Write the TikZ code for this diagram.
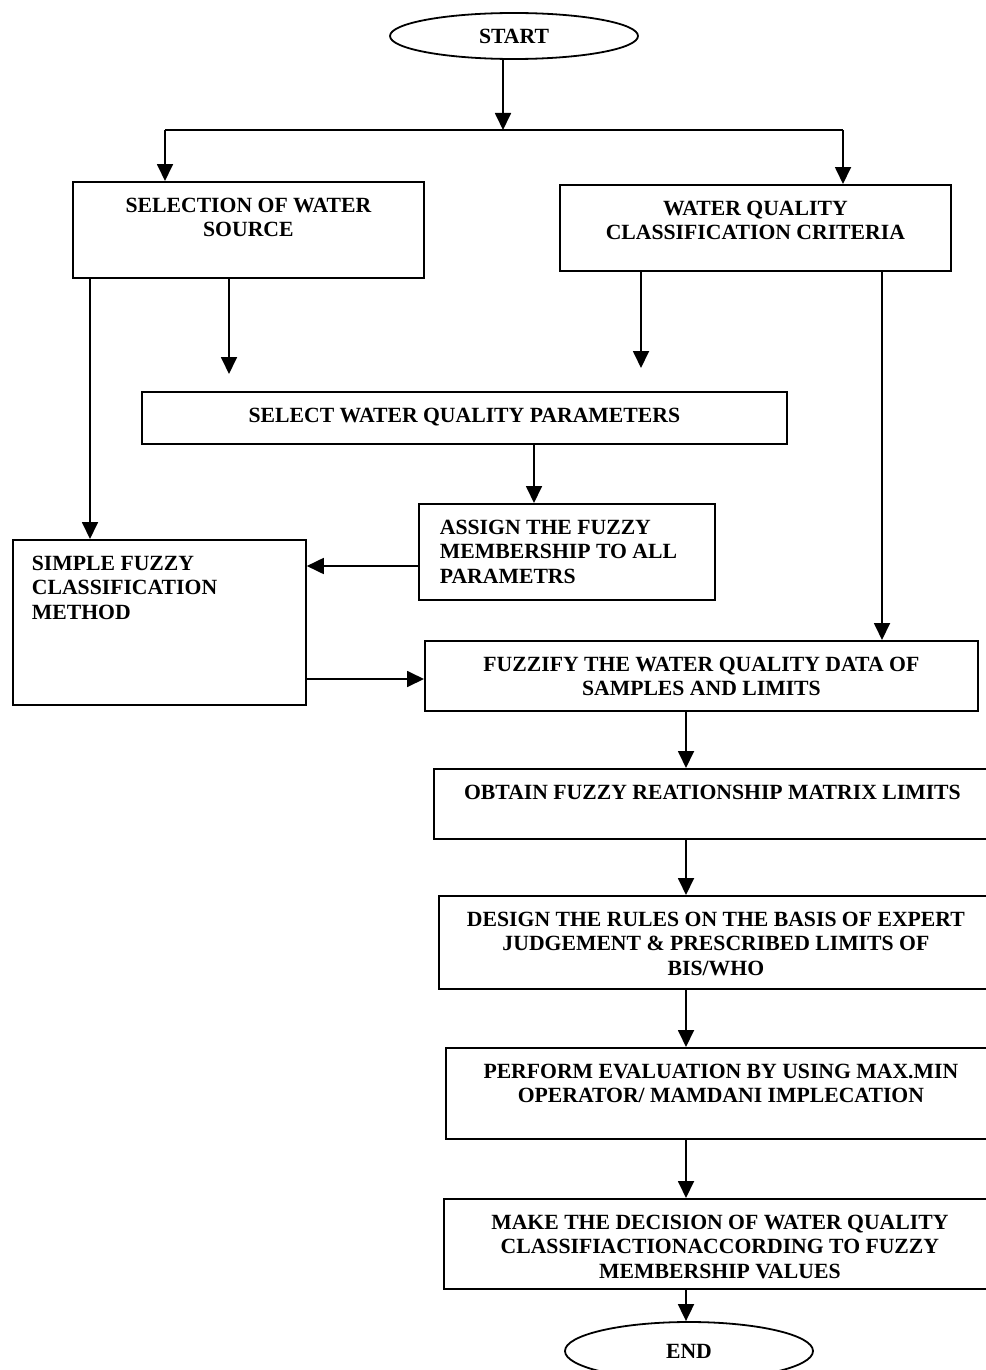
\documentclass[tikz,border=0pt]{standalone}
\usepackage{fontspec}
\setmainfont{Liberation Serif}
\usetikzlibrary{shapes.geometric,arrows.meta}
\newcommand{\fsz}{\fontsize{21.7pt}{24.5pt}\selectfont\bfseries}
\newcommand{\fbtext}[3]{\parbox[c][#1][t]{#2}{\vspace*{16pt}#3}}
\begin{document}
\begin{tikzpicture}[x=1pt,y=-1pt,
  box/.style={draw,line width=1.8pt,inner sep=0pt,anchor=north west,font=\fsz},
  oval/.style={draw,ellipse,line width=1.8pt,inner sep=0pt,minimum width=248pt,minimum height=46pt,font=\fsz},
  arr/.style={line width=1.8pt,-{Triangle[length=17pt,width=16pt]}},
  ln/.style={line width=1.8pt}]
\useasboundingbox (0,0) rectangle (985,1370);
\fill[white] (0,0) rectangle (985,1370);
% nodes
\node[oval] (st) at (514,36) {START};
\node[box] (b1) at (72,181) {\fbtext{96pt}{351pt}{\centering SELECTION OF WATER\\SOURCE}};
\node[box] (b2) at (559,184) {\fbtext{86pt}{391pt}{\centering WATER QUALITY\\CLASSIFICATION CRITERIA}};
\node[box] (sel) at (141,391) {\fbtext{52pt}{645pt}{\centering SELECT WATER QUALITY PARAMETERS}};
\node[box] (asg) at (418,503) {\fbtext{96pt}{296pt}{\raggedright\leftskip=21pt ASSIGN THE FUZZY\\MEMBERSHIP TO ALL\\PARAMETRS}};
\node[box] (sfc) at (12,539) {\fbtext{165pt}{293pt}{\raggedright\leftskip=19pt SIMPLE FUZZY\\CLASSIFICATION\\METHOD}};
\node[box] (fz) at (424,640) {\fbtext{70pt}{553pt}{\centering FUZZIFY THE WATER QUALITY DATA OF\\SAMPLES AND LIMITS}};
\node[box] (ob) at (433,768) {\fbtext{70pt}{557pt}{\centering OBTAIN FUZZY REATIONSHIP MATRIX LIMITS}};
\node[box] (ds) at (438,895) {\fbtext{93pt}{554pt}{\centering DESIGN THE RULES ON THE BASIS OF EXPERT\\JUDGEMENT \& PRESCRIBED LIMITS OF\\BIS/WHO}};
\node[box] (pf) at (445,1047) {\fbtext{91pt}{550pt}{\centering PERFORM EVALUATION BY USING MAX.MIN\\OPERATOR/ MAMDANI IMPLECATION}};
\node[box] (mk) at (443,1198) {\fbtext{90pt}{552pt}{\centering MAKE THE DECISION OF WATER QUALITY\\CLASSIFIACTIONACCORDING TO FUZZY\\MEMBERSHIP VALUES}};
\node[oval,minimum height=58pt] (en) at (689,1351) {END};
% helper coordinates
\coordinate (j) at (503,130);
\coordinate (jl) at (165,130);
\coordinate (jr) at (843,130);
\coordinate (t1) at (229,374);
\coordinate (t2) at (641,368);
\coordinate (xa) at (90,0);
\coordinate (xb) at (882,0);
\coordinate (xc) at (534,0);
\coordinate (xd) at (686,0);
\coordinate (ya) at (0,566);
\coordinate (yb) at (0,679);
% connectors
\draw[arr] (st.south -| j) -- (j);
\draw[ln] (jl) -- (jr);
\draw[arr] (jl) -- (jl |- b1.north);
\draw[arr] (jr) -- (jr |- b2.north);
\draw[arr] (b1.south -| t1) -- (t1);
\draw[arr] (b2.south -| t2) -- (t2);
\draw[arr] (b1.south -| xa) -- (sfc.north -| xa);
\draw[arr] (b2.south -| xb) -- (fz.north -| xb);
\draw[arr] (sel.south -| xc) -- (asg.north -| xc);
\draw[arr] (asg.west |- ya) -- (sfc.east |- ya);
\draw[arr] (sfc.east |- yb) -- (fz.west |- yb);
\draw[arr] (fz.south -| xd) -- (ob.north -| xd);
\draw[arr] (ob.south -| xd) -- (ds.north -| xd);
\draw[arr] (ds.south -| xd) -- (pf.north -| xd);
\draw[arr] (pf.south -| xd) -- (mk.north -| xd);
\draw[arr] (mk.south -| xd) -- (en.north -| xd);
\end{tikzpicture}
\end{document}
